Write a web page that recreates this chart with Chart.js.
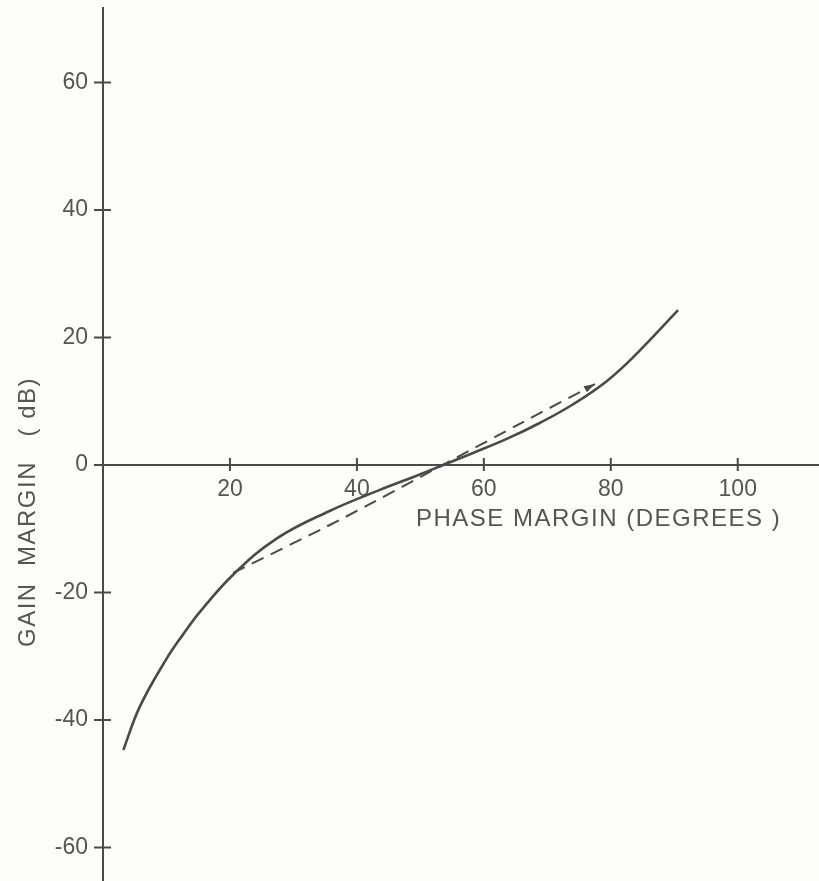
<!DOCTYPE html>
<html>
<head>
<meta charset="utf-8">
<script src="https://cdn.jsdelivr.net/npm/chart.js@4.4.1/dist/chart.umd.min.js"></script>
<style>
  html, body { margin: 0; padding: 0; background: #fdfdf9; }
  #wrap { width: 819px; height: 881px; position: relative; }
</style>
</head>
<body>
<div id="wrap"><canvas id="c" width="819" height="881"></canvas></div>
<script>
// ---- data ----
const phaseSolid = [3.2, 5.8, 10.0, 12.6, 15.3, 20.5, 27.4, 35.7, 43.6, 48.8, 53.6, 58.3, 63.6, 68.8, 74.0, 79.4, 84.0, 90.6];
const gainSolid  = [-44.7, -37.9, -30.4, -26.6, -23.0, -17.2, -11.5, -7.2, -3.9, -1.9, 0, 1.9, 4.1, 6.6, 9.5, 13.2, 17.4, 24.3];
const phaseDashed = [20.5, 37.3, 53.5, 66.1, 77.5];
const gainDashed  = [-16.9, -8.6, 0, 6.7, 12.7];
const xTickValues = [20, 40, 60, 80, 100];
const yTickValues = [-60, -40, -20, 0, 20, 40, 60];
const xAxisTitle = 'PHASE MARGIN (DEGREES )';
const yAxisTitle = 'GAIN  MARGIN   ( dB)';

const inkLine = '#4a4a4a';
const inkText = '#555555';
const fontFam = '"Liberation Sans", Arial, sans-serif';

const toPts = (xs, ys) => xs.map((x, i) => ({ x: x, y: ys[i] }));

const axisDecor = {
  id: 'axisDecor',
  afterDraw(chart) {
    const ctx = chart.ctx;
    const xs = chart.scales.x, ys = chart.scales.y;
    const x0 = xs.getPixelForValue(0), y0 = ys.getPixelForValue(0);
    ctx.save();
    ctx.strokeStyle = inkLine;
    ctx.lineWidth = 2;
    ctx.beginPath();
    xTickValues.forEach(v => {
      const px = xs.getPixelForValue(v);
      ctx.moveTo(px, y0 - 7); ctx.lineTo(px, y0 + 6);
    });
    yTickValues.forEach(v => {
      const py = ys.getPixelForValue(v);
      ctx.moveTo(x0 - 9, py); ctx.lineTo(x0 + 8, py);
    });
    ctx.stroke();

    // small arrowhead at the end of the dashed line (direction from rendered points)
    const pts = chart.getDatasetMeta(1).data;
    if (pts.length > 1) {
      const a = pts[pts.length - 2], b = pts[pts.length - 1];
      const ang = Math.atan2(b.y - a.y, b.x - a.x);
      ctx.fillStyle = inkLine;
      ctx.beginPath();
      ctx.moveTo(b.x, b.y);
      ctx.lineTo(b.x - 11 * Math.cos(ang) + 3.5 * Math.sin(ang), b.y - 11 * Math.sin(ang) - 3.5 * Math.cos(ang));
      ctx.lineTo(b.x - 11 * Math.cos(ang) - 3.5 * Math.sin(ang), b.y - 11 * Math.sin(ang) + 3.5 * Math.cos(ang));
      ctx.closePath();
      ctx.fill();
    }

    // axis titles
    ctx.fillStyle = inkText;
    ctx.font = '24px ' + fontFam;
    try { ctx.letterSpacing = '1.5px'; } catch (e) {}
    ctx.textAlign = 'left';
    ctx.textBaseline = 'middle';
    ctx.fillText(xAxisTitle, 416, 519);

    ctx.translate(28, 647);
    ctx.rotate(-Math.PI / 2);
    ctx.font = '24px ' + fontFam;
    try { ctx.letterSpacing = '1.5px'; } catch (e) {}
    ctx.fillText(yAxisTitle, 0, 0);
    ctx.restore();
  }
};

new Chart(document.getElementById('c'), {
  type: 'scatter',
  data: {
    datasets: [
      {
        data: toPts(phaseSolid, gainSolid),
        showLine: true,
        borderColor: inkLine,
        borderWidth: 2.6,
        pointRadius: 0,
        tension: 0.4,
        fill: false
      },
      {
        data: toPts(phaseDashed, gainDashed),
        showLine: true,
        borderColor: inkLine,
        borderWidth: 2,
        borderDash: [13, 8],
        pointRadius: 0,
        tension: 0.3,
        fill: false
      }
    ]
  },
  options: {
    responsive: false,
    animation: false,
    devicePixelRatio: 1,
    layout: { padding: { top: 8, left: 0, right: 0, bottom: 0 } },
    plugins: { legend: { display: false }, tooltip: { enabled: false } },
    scales: {
      x: {
        type: 'linear',
        min: 0,
        max: 112.8,
        position: { y: 0 },
        afterBuildTicks: s => { s.ticks = xTickValues.map(v => ({ value: v })); },
        afterFit: s => { s.paddingLeft = 0; s.paddingRight = 0; s.paddingTop = 0; s.paddingBottom = 0; },
        grid: { display: true, drawOnChartArea: false, drawTicks: false },
        border: { display: true, color: inkLine, width: 2 },
        ticks: { color: inkText, font: { family: fontFam, size: 23 }, padding: 11, maxRotation: 0, autoSkip: false }
      },
      y: {
        type: 'linear',
        min: -65.25,
        max: 71.7,
        position: 'left',
        afterFit: s => { s.width = 103; s.paddingTop = 0; s.paddingBottom = 0; s.paddingLeft = 0; s.paddingRight = 0; },
        afterBuildTicks: s => { s.ticks = yTickValues.map(v => ({ value: v })); },
        grid: { display: true, drawOnChartArea: false, drawTicks: false },
        border: { display: true, color: inkLine, width: 2 },
        ticks: { color: inkText, font: { family: fontFam, size: 23 }, padding: 15, autoSkip: false }
      }
    }
  },
  plugins: [axisDecor]
});
</script>
</body>
</html>
